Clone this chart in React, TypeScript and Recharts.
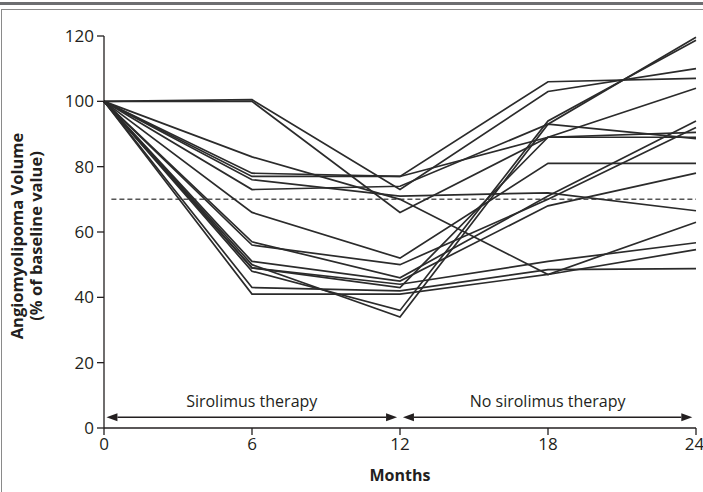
import React from 'react'
import { LineChart, Line, XAxis, YAxis, ReferenceLine } from 'recharts'

const months = [0, 6, 12, 18, 24]
const xTicks = [0, 6, 12, 18, 24]
const yTicks = [0, 20, 40, 60, 80, 100, 120]
const thresholdValue = 70

// % of baseline volume, per patient, at months 0, 6, 12, 18, 24
const patient01 = [100, 100.5, 73, 103, 110]
const patient02 = [100, 100, 66, 89, 104]
const patient03 = [100, 83, 70, 47, 63]
const patient04 = [100, 78, 77, 106, 107]
const patient05 = [100, 77, 77, 89, 89]
const patient06 = [100, 76, 71, 72, 66.5]
const patient07 = [100, 73, 74, 93, 88.6]
const patient08 = [100, 66, 52, 81, 81]
const patient09 = [100, 57, 46, 71, 94]
const patient10 = [100, 56, 50, 70, 92]
const patient11 = [100, 51, 45, 68, 78]
const patient12 = [100, 50, 34, 93, 119.6]
const patient13 = [100, 49, 44, 51, 56.7]
const patient14 = [100, 48, 36, 94, 118.7]
const patient15 = [100, 43, 42, 48.5, 48.8]
const patient16 = [100, 41, 41, 47, 54.6]
const patient17 = [100, 49, 43, 89, 90.5]

const patients = [
  patient01, patient02, patient03, patient04, patient05, patient06,
  patient07, patient08, patient09, patient10, patient11, patient12,
  patient13, patient14, patient15, patient16, patient17,
]

const phaseLabels = ['Sirolimus therapy', 'No sirolimus therapy']

const chartData = months.map((month, i) => {
  const row: Record<string, number> = { month }
  patients.forEach((p, j) => {
    row[`p${j + 1}`] = p[i]
  })
  return row
})

const FONT = "'Open Sans', 'Noto Sans', sans-serif"
const TICK_FONT = "'Liberation Sans Narrow', 'Open Sans', sans-serif"
const INK = '#231f20'

// double-headed arrow with a caption above it
const arrowShape = (caption: string) => (props: any) => {
  const { x1, y1, x2 } = props
  const head = 11
  const half = 4
  return (
    <g>
      <line x1={x1 + head} y1={y1} x2={x2 - head} y2={y1} stroke={INK} strokeWidth={1.4} />
      <polygon points={`${x1},${y1} ${x1 + head},${y1 - half} ${x1 + head},${y1 + half}`} fill={INK} />
      <polygon points={`${x2},${y1} ${x2 - head},${y1 - half} ${x2 - head},${y1 + half}`} fill={INK} />
      <text
        x={(x1 + x2) / 2}
        y={y1 - 10}
        textAnchor="middle"
        fontFamily={FONT}
        fontSize={16}
        fill={INK}
      >
        {caption}
      </text>
    </g>
  )
}

const YLabel = () => (
  <text
    transform="translate(27, 236) rotate(-90)"
    textAnchor="middle"
    fontFamily={FONT}
    fontSize={16.5}
    fontWeight={700}
    fill={INK}
  >
    <tspan x={0} dy={-4}>Angiomyolipoma Volume</tspan>
    <tspan x={0} dy={19}>(% of baseline value)</tspan>
  </text>
)

const XLabel = () => (
  <text x={400} y={481} textAnchor="middle" fontFamily={FONT} fontSize={16} fontWeight={700} fill={INK}>
    Months
  </text>
)

export default function App() {
  return (
    <div
      style={{
        position: 'absolute',
        left: 0,
        top: 0,
        width: 703,
        height: 492,
        overflow: 'hidden',
        background: '#fff',
      }}
    >
      <div style={{ position: 'absolute', left: 0, top: 2, width: 703, height: 3, background: '#6d6e71' }} />
      <div
        style={{
          position: 'absolute',
          left: 1,
          top: 9,
          width: 740,
          height: 520,
          border: '1.5px solid #8a8a8a',
        }}
      />
      <div style={{ position: 'absolute', left: 0, top: 0 }}>
        <LineChart
          width={703}
          height={492}
          data={chartData}
          margin={{ top: 36, right: 7, left: 44, bottom: 34 }}
        >
          <XAxis
            dataKey="month"
            type="number"
            domain={[0, 24]}
            ticks={xTicks}
            tickSize={7}
            tickMargin={3}
            height={30}
            axisLine={{ stroke: INK, strokeWidth: 1.3 }}
            tickLine={{ stroke: INK, strokeWidth: 1.3 }}
            tick={{ fontFamily: TICK_FONT, fontSize: 17, fill: INK }}
            label={{ content: () => <XLabel /> }}
          />
          <YAxis
            type="number"
            domain={[0, 120]}
            ticks={yTicks}
            width={60}
            tickSize={7}
            tickMargin={3}
            axisLine={{ stroke: INK, strokeWidth: 1.3 }}
            tickLine={{ stroke: INK, strokeWidth: 1.3 }}
            tick={{ fontFamily: TICK_FONT, fontSize: 17, fill: INK }}
            label={{ content: () => <YLabel /> }}
          />
          <ReferenceLine
            segment={[{ x: 0.3, y: thresholdValue }, { x: 24, y: thresholdValue }]}
            stroke="#555"
            strokeWidth={1.5}
            strokeDasharray="5 3"
          />
          {patients.map((_, j) => (
            <Line
              key={j}
              dataKey={`p${j + 1}`}
              type="linear"
              stroke="#2b2b2b"
              strokeWidth={1.7}
              dot={false}
              isAnimationActive={false}
            />
          ))}
          <ReferenceLine
            segment={[{ x: 0.1, y: 3.3 }, { x: 11.88, y: 3.3 }]}
            shape={arrowShape(phaseLabels[0])}
          />
          <ReferenceLine
            segment={[{ x: 12.12, y: 3.3 }, { x: 23.85, y: 3.3 }]}
            shape={arrowShape(phaseLabels[1])}
          />
        </LineChart>
      </div>
    </div>
  )
}
